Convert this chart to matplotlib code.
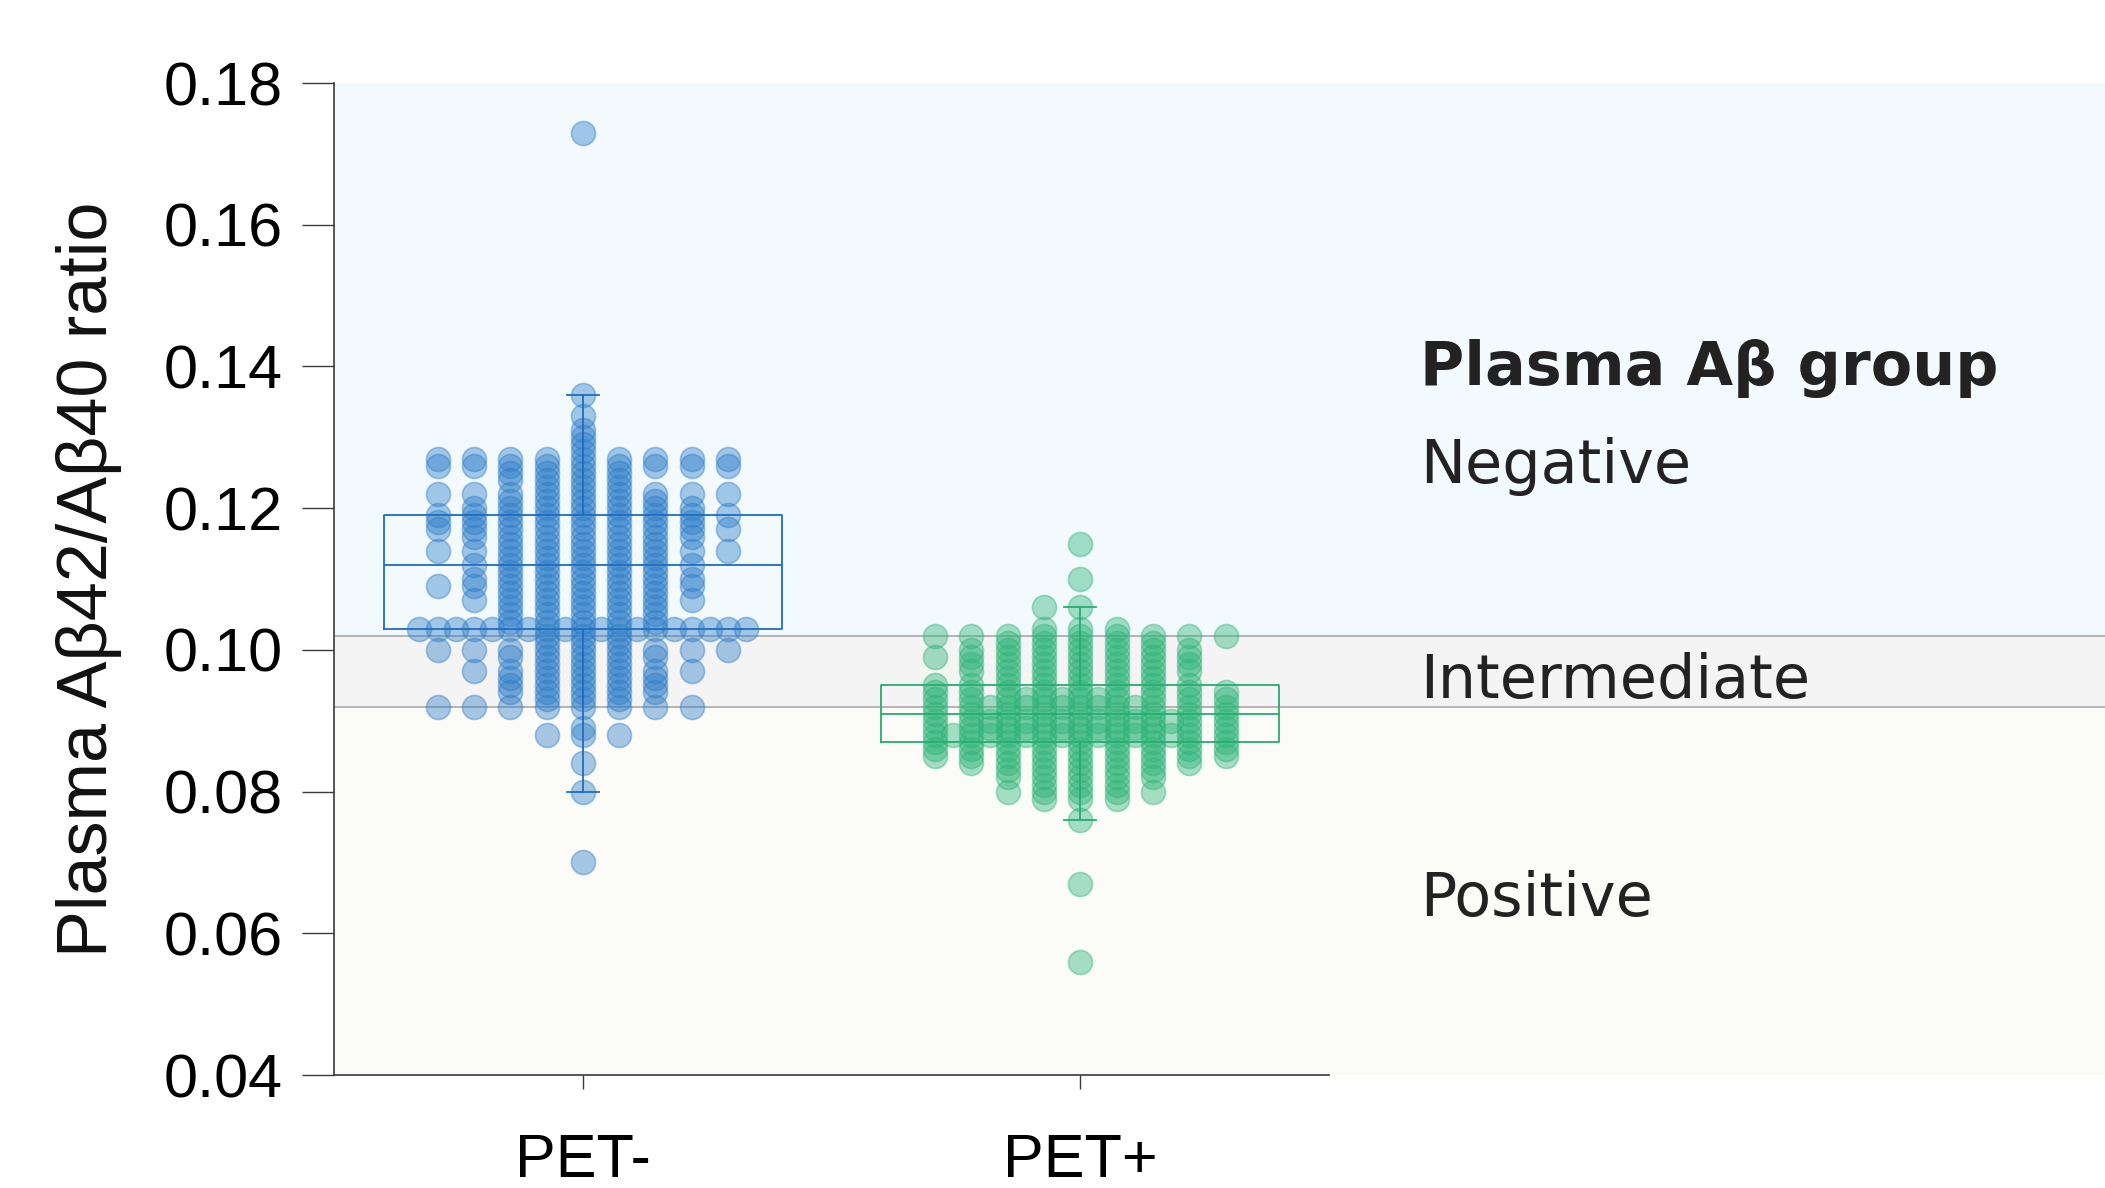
import numpy as np
import matplotlib
matplotlib.use("Agg")
import matplotlib.pyplot as plt

# --- data ---
groups = ["PET-", "PET+"]

# ratio value -> number of subjects with that value (PET- group)
neg_values = [0.173, 0.136, 0.133, 0.131, 0.130, 0.129, 0.128, 0.127, 0.126, 0.125,
              0.124, 0.123, 0.122, 0.121, 0.120, 0.119, 0.118, 0.117, 0.116, 0.115,
              0.114, 0.113, 0.112, 0.111, 0.110, 0.109, 0.108, 0.107, 0.106, 0.105,
              0.104, 0.103, 0.102, 0.101, 0.100, 0.099, 0.098, 0.097, 0.096, 0.095,
              0.094, 0.093, 0.092, 0.089, 0.088, 0.084, 0.080, 0.070]
neg_counts = [1, 1, 1, 1, 1, 1, 1, 9, 9, 4,
              4, 3, 9, 5, 7, 9, 8, 9, 7, 5,
              9, 5, 7, 5, 7, 8, 5, 7, 5, 5,
              5, 19, 3, 3, 9, 5, 3, 7, 5, 5,
              5, 3, 8, 1, 3, 1, 1, 1]

# PET+ group
pos_values = [0.115, 0.110, 0.106, 0.103, 0.102, 0.101, 0.100, 0.099, 0.098, 0.097,
              0.096, 0.095, 0.094, 0.093, 0.092, 0.091, 0.090, 0.089, 0.088, 0.087,
              0.086, 0.085, 0.084, 0.083, 0.082, 0.081, 0.080, 0.079, 0.076, 0.067,
              0.056]
pos_counts = [1, 1, 2, 3, 9, 5, 7, 8, 7, 7,
              5, 8, 9, 12, 14, 9, 15, 14, 16, 9,
              9, 9, 7, 5, 5, 3, 5, 3, 1, 1,
              1]

# box stats: whisker low, Q1, median, Q3, whisker high
neg_box = [0.080, 0.103, 0.112, 0.119, 0.136]
pos_box = [0.076, 0.087, 0.091, 0.095, 0.106]

# plasma A-beta group cut-offs
cut_low = 0.092
cut_high = 0.102
band_title = "Plasma Aβ group"
band_labels = ["Negative", "Intermediate", "Positive"]

yticks = [0.04, 0.06, 0.08, 0.10, 0.12, 0.14, 0.16, 0.18]


def swarm(values, counts, step=0.073):
    """Spread tied values sideways: full columns first, then half-step columns"""
    slots = [0, -1, 1, -2, 2, -3, 3, -4, 4,
             -0.5, 0.5, -1.5, 1.5, -2.5, 2.5, -3.5, 3.5, -4.5, 4.5]
    xs, ys = [], []
    for v, n in zip(values, counts):
        for s in slots[:n]:
            xs.append(s * step)
            ys.append(v)
    return np.array(xs), np.array(ys)


fig = plt.figure(figsize=(21.05, 11.88), dpi=100)

# background bands run past the axis to the right edge
bg = fig.add_axes([0.1587, 0.0951, 1 - 0.1587, 0.835], zorder=0)
bg.set_xlim(0, 1)
bg.set_ylim(0.04, 0.18)
bg.axis("off")
bg.axhspan(cut_high, 0.18, color="#f2fafe", lw=0)
bg.axhspan(cut_low, cut_high, color="#f4f4f4", lw=0)
bg.axhspan(0.04, cut_low, color="#fbfcf8", lw=0)
bg.axhline(cut_high, color="#b4b4b4", lw=1.4)
bg.axhline(cut_low, color="#b4b4b4", lw=1.4)

tx = 0.613
text_kw = dict(fontsize=43.5, color="#222222", family="DejaVu Sans", va="baseline")
bg.text(tx, 0.1374, band_title, fontweight="bold", **text_kw)
bg.text(tx, 0.1235, band_labels[0], **text_kw)
bg.text(tx, 0.0932, band_labels[1], **text_kw)
bg.text(tx, 0.0625, band_labels[2], **text_kw)

ax = fig.add_axes([0.1587, 0.0951, 0.4727, 0.835], zorder=1)
ax.patch.set_alpha(0)

colors = ["#2f7ec8", "#2eb478"]
box_colors = ["#1f6dbf", "#25ad6f"]
data = [(neg_values, neg_counts), (pos_values, pos_counts)]
boxes = [neg_box, pos_box]

for i, ((vals, cnts), c) in enumerate(zip(data, colors)):
    xs, ys = swarm(vals, cnts)
    ax.scatter(xs + i, ys, s=300, color=c, alpha=0.42, edgecolors=c,
               linewidths=1.2, zorder=2)

for i, (b, bc) in enumerate(zip(boxes, box_colors)):
    stats = [{"whislo": b[0], "q1": b[1], "med": b[2], "q3": b[3],
              "whishi": b[4], "fliers": []}]
    ax.bxp(stats, positions=[i], widths=0.8, capwidths=0.064, showfliers=False,
           boxprops=dict(color=bc, lw=1.3),
           medianprops=dict(color=bc, lw=1.3),
           whiskerprops=dict(color=bc, lw=1.3),
           capprops=dict(color=bc, lw=1.3),
           manage_ticks=False, zorder=3)

ax.set_xlim(-0.5, 1.5)
ax.set_ylim(0.04, 0.18)
ax.set_yticks(yticks)
ax.set_yticklabels([f"{t:.2f}" for t in yticks], family="Liberation Sans", fontsize=44)
ax.set_xticks([0, 1])
ax.set_xticklabels(groups, family="Liberation Sans", fontsize=44)

for side in ["top", "right"]:
    ax.spines[side].set_visible(False)
for side in ["left", "bottom"]:
    ax.spines[side].set_color("#3a3a3a")
    ax.spines[side].set_linewidth(1.2)

ax.tick_params(axis="y", length=23, width=1, color="#3a3a3a", pad=14)
ax.tick_params(axis="x", length=10, width=1, color="#3a3a3a", pad=32)

ax.set_ylabel("Plasma Aβ42/Aβ40 ratio", family="Liberation Sans", fontsize=50.5,
              color="#111111")
ax.yaxis.set_label_coords(-0.213, 0.5)

fig.savefig("out.png", dpi=100)
plt.close(fig)
print("saved out.png")
